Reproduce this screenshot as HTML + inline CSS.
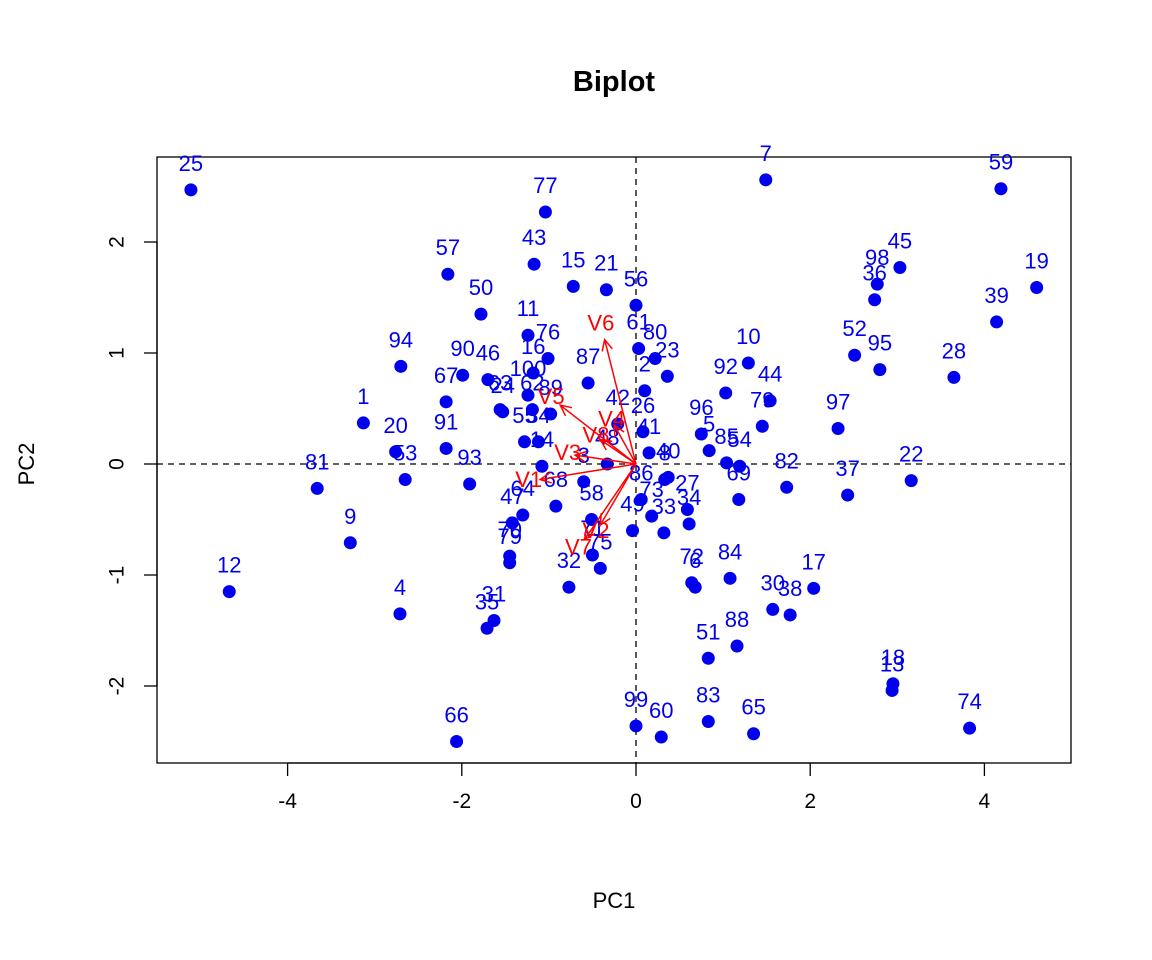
<!DOCTYPE html>
<html><head><meta charset="utf-8"><style>
body{margin:0;background:#fff}
svg{display:block;font-family:"Liberation Sans",sans-serif}
</style></head><body>
<svg id="c" width="1152" height="960">
<text x="614" y="91" text-anchor="middle" font-size="29" font-weight="bold">Biplot</text>
<rect x="157" y="157" width="914" height="606" fill="none" stroke="#000" stroke-width="1.3"/>
<text x="614" y="908" text-anchor="middle" font-size="22">PC1</text>
<text x="34" y="464" text-anchor="middle" font-size="22" transform="rotate(-90 34 464)">PC2</text>
<g id="axes"></g><g id="refl"></g><g id="pts"></g><g id="arr"></g>
</svg>
<script>
const xTicks=[-4,-2,0,2,4];
const yTicks=[-2,-1,0,1,2];
const pcX=[-5.11,-1.04,1.49,4.19,4.60,4.14,3.03,2.77,2.74,2.51,2.80,3.65,-2.16,-1.17,-0.72,-0.34,0,-1.78,-1.24,0.03,0.22,0.36,0.10,0.08,1.29,1.03,1.54,1.45,0.75,0.84,1.04,1.19,1.18,1.73,2.32,2.43,3.16,-2.70,-1.99,-1.70,-2.18,-1.56,-3.13,-2.76,-2.18,-2.65,-1.91,-3.66,-3.28,-4.67,-2.71,-2.06,-1.63,-1.71,-1.45,-1.45,-1.42,-1.30,-1.01,-1.18,-1.24,-1.53,-1.19,-0.55,-0.21,0.37,0.59,0.61,1.08,2.04,1.57,1.77,0.64,0.68,0.83,1.16,2.95,2.94,3.83,0,0.29,0.83,1.35,-0.77,-0.41,-0.50,-1.08,-0.92,-0.51,-0.60,-0.04,0.06,0.18,0.32,0.33,0.15,-0.98,-0.33,-1.28,-1.12];
const pcY=[2.47,2.27,2.56,2.48,1.59,1.28,1.77,1.62,1.48,0.98,0.85,0.78,1.71,1.80,1.60,1.57,1.43,1.35,1.16,1.04,0.95,0.79,0.66,0.29,0.91,0.64,0.57,0.34,0.27,0.12,0.01,-0.02,-0.32,-0.21,0.32,-0.28,-0.15,0.88,0.80,0.76,0.56,0.49,0.37,0.11,0.14,-0.14,-0.18,-0.22,-0.71,-1.15,-1.35,-2.50,-1.41,-1.48,-0.89,-0.83,-0.53,-0.46,0.95,0.82,0.62,0.47,0.49,0.73,0.36,-0.12,-0.41,-0.54,-1.03,-1.12,-1.31,-1.36,-1.07,-1.11,-1.75,-1.64,-1.98,-2.04,-2.38,-2.36,-2.46,-2.32,-2.43,-1.11,-0.94,-0.82,-0.02,-0.38,-0.50,-0.16,-0.60,-0.32,-0.47,-0.62,-0.14,0.10,0.45,0.00,0.20,0.20];
const ptLabels=["25","77","7","59","19","39","45","98","36","52","95","28","57","43","15","21","56","50","11","61","80","23","2","26","10","92","44","79","96","5","85","54","69","82","97","37","22","94","90","46","67","63","1","20","91","53","93","81","9","12","4","66","31","35","79","70","47","64","76","16","100","24","62","87","42","40","27","34","84","17","30","38","72","6","51","88","18","13","74","99","60","83","65","32","75","71","14","68","58","3","49","86","73","33","8","41","89","48","55","34"];
const varNames=["V1","V2","V3","V4","V5","V6","V7","V8"];
const loadX=[-1.10,-0.41,-0.70,-0.25,-0.87,-0.36,-0.59,-0.41];
const loadY=[-0.14,-0.55,0.08,0.35,0.53,1.12,-0.68,0.22];
const sx=v=>636+v*87.1, sy=v=>464-v*111;
const NS="http://www.w3.org/2000/svg";
function mk(tag,attrs,parent,txt){const e=document.createElementNS(NS,tag);for(const k in attrs)e.setAttribute(k,attrs[k]);if(txt!==undefined)e.textContent=txt;parent.appendChild(e);return e;}
const ax=document.getElementById('axes');
mk('line',{x1:sx(-4),x2:sx(4),y1:763,y2:763,stroke:'#000','stroke-width':1.3},ax);
xTicks.forEach(t=>{
 const l=mk('line',{x1:sx(t),x2:sx(t),y1:763,y2:776,stroke:'#000','stroke-width':1.3},ax);
 
 
 const tx=mk('text',{x:sx(t),y:808,'text-anchor':'middle','font-size':21},ax,String(t));
 
 
});
mk('line',{x1:157,x2:157,y1:sy(-2),y2:sy(2),stroke:'#000','stroke-width':1.3},ax);
yTicks.forEach(t=>{
 const l=mk('line',{x1:144,x2:157,y1:sy(t),y2:sy(t),stroke:'#000','stroke-width':1.3},ax);
 
 
 const tx=mk('text',{x:118,y:sy(t),'text-anchor':'middle','font-size':21,transform:`rotate(-90 118 ${sy(t)})`,'dominant-baseline':'middle'},ax,String(t));
 
 
});
const rf=document.getElementById('refl');
const h=mk('line',{x1:157,x2:1071,y1:sy(0),y2:sy(0),stroke:'#000','stroke-width':1.3,'stroke-dasharray':'6,5'},rf);


const v=mk('line',{x1:sx(0),x2:sx(0),y1:157,y2:763,stroke:'#000','stroke-width':1.3,'stroke-dasharray':'6,5'},rf);


const pg=document.getElementById('pts');
pcX.forEach((x,i)=>{
 const c=mk('circle',{cx:sx(x),cy:sy(pcY[i]),r:6.5,fill:'#0000ee'},pg);
 
 
 const t=mk('text',{x:sx(x),y:sy(pcY[i])-19,'text-anchor':'middle','font-size':22,fill:'#0000ee'},pg,ptLabels[i]);
 
 
});
const ag=document.getElementById('arr');
varNames.forEach((n,i)=>{
 const x2=sx(loadX[i]),y2=sy(loadY[i]),x1=sx(0),y1=sy(0);
 const a=Math.atan2(y2-y1,x2-x1);
 const l=mk('line',{x1,y1,x2,y2,stroke:'#ff0000','stroke-width':1.5},ag);
 
 
 const hl=12,hw=0.45;
 const p=mk('polyline',{points:`${x2-hl*Math.cos(a-hw)},${y2-hl*Math.sin(a-hw)} ${x2},${y2} ${x2-hl*Math.cos(a+hw)},${y2-hl*Math.sin(a+hw)}`,fill:'none',stroke:'#ff0000','stroke-width':1.5},ag);
 
 
 const t=mk('text',{x:sx(loadX[i]*1.12),y:sy(loadY[i]*1.12),'text-anchor':'middle','dominant-baseline':'middle','font-size':22,fill:'#ff0000'},ag,n);
 
 
});
</script>
</body></html>
